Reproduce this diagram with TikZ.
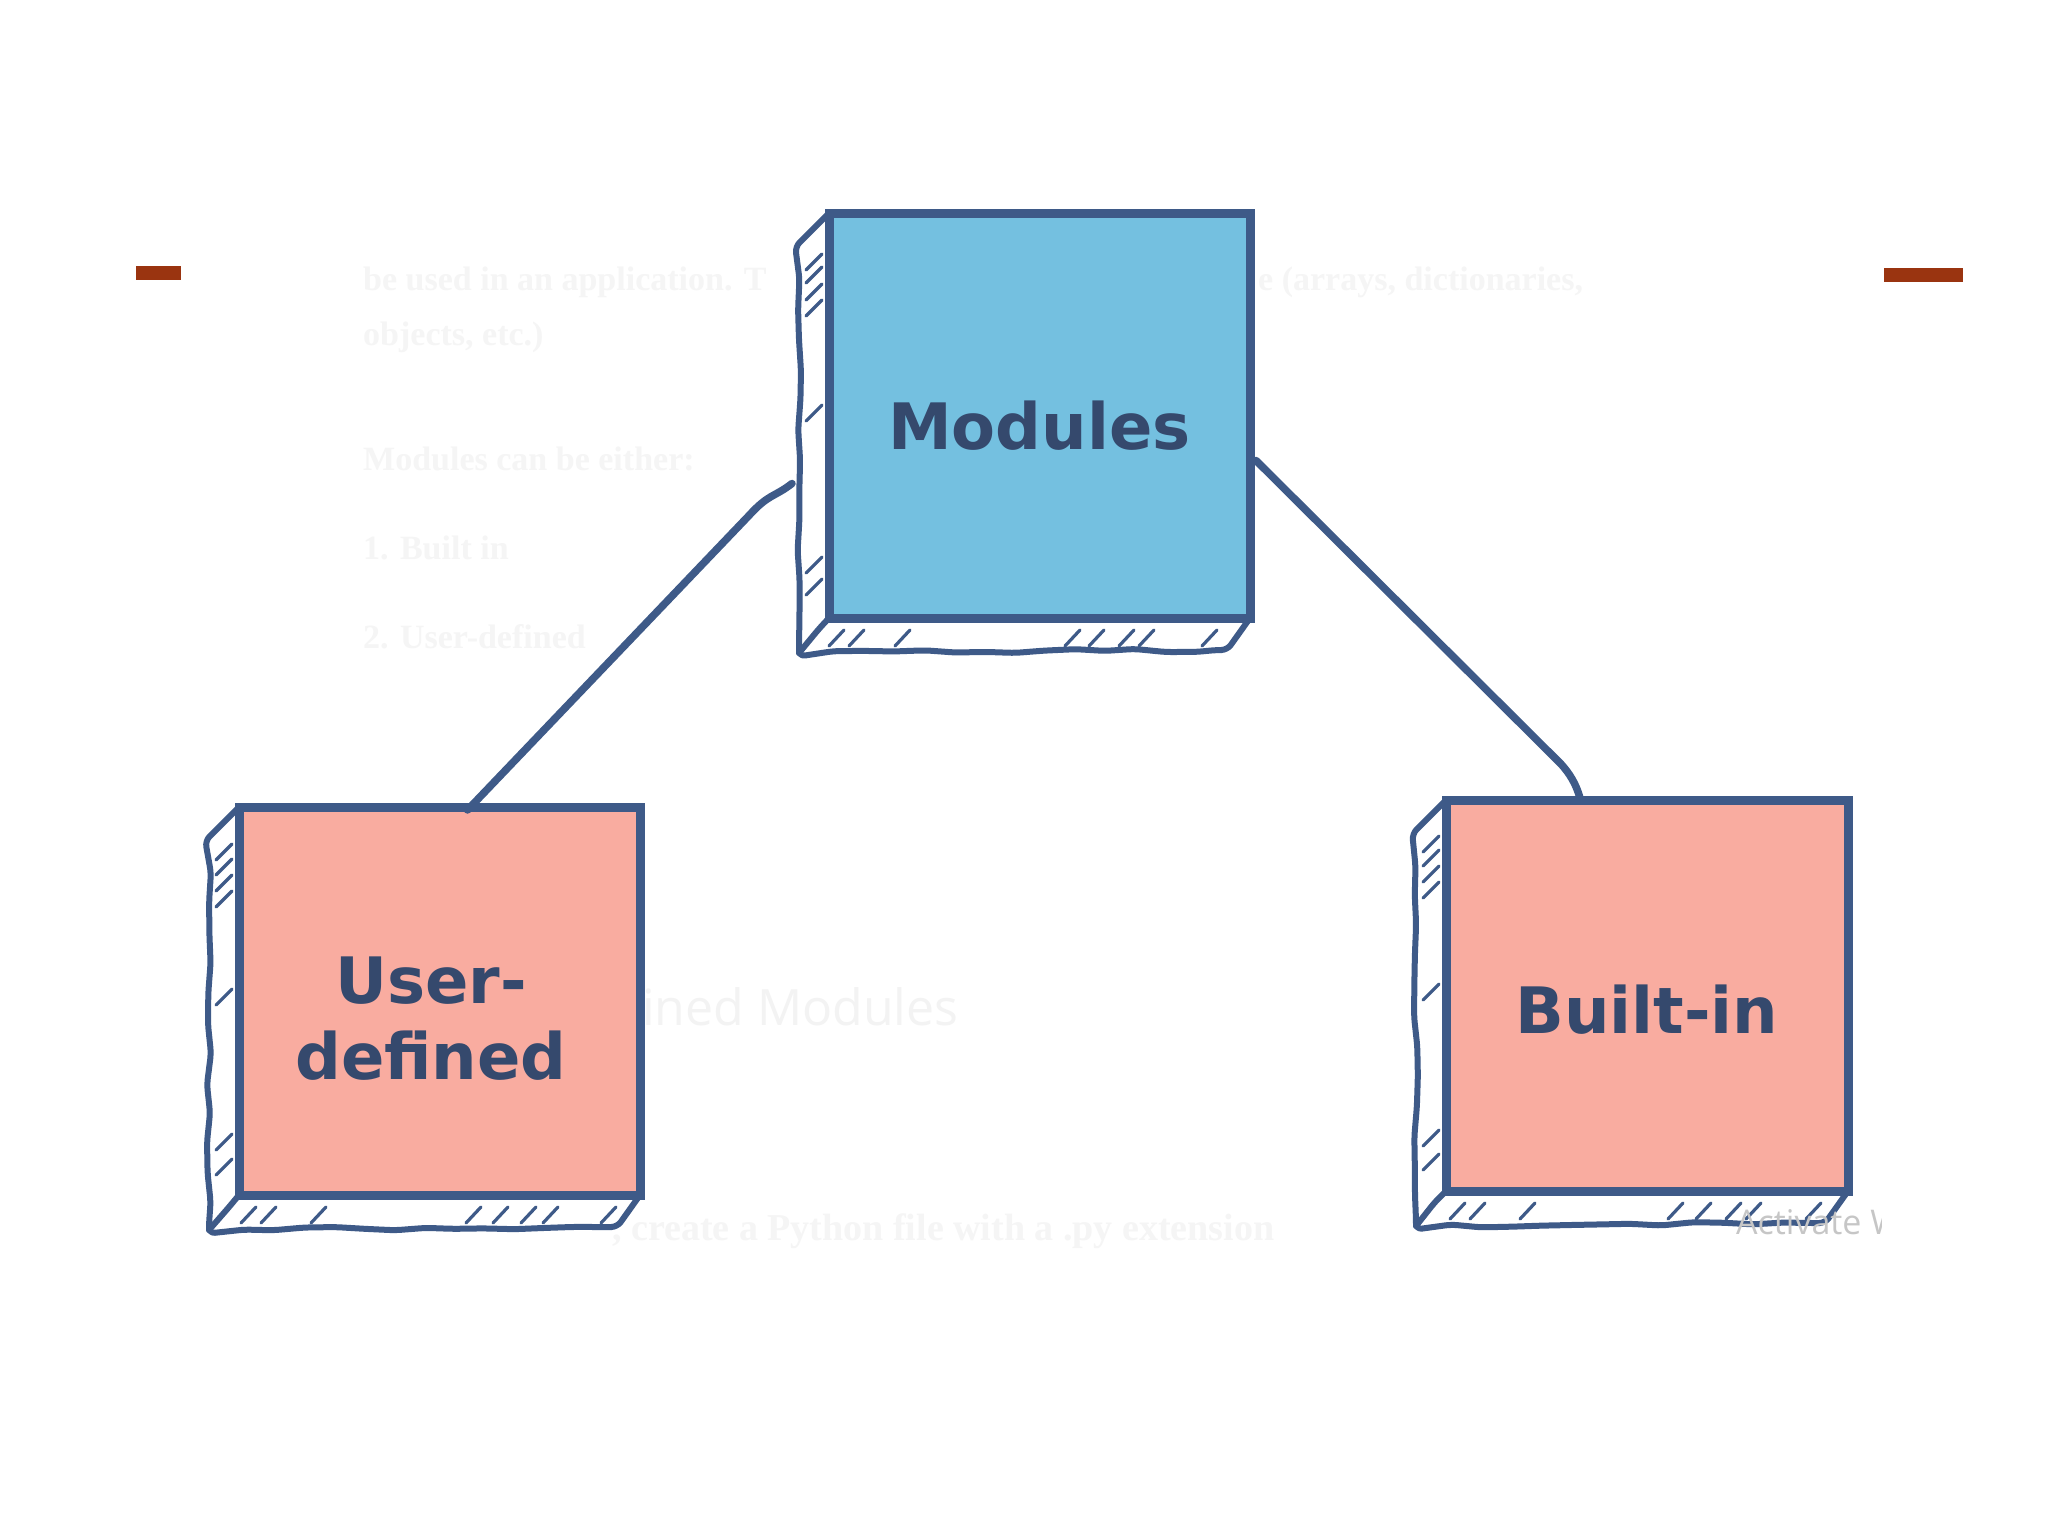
\documentclass[tikz,border=0pt]{standalone}
\usepackage{fontspec}
\setmainfont{DejaVu Sans}
\newfontfamily\ghostserif{Liberation Serif}
\newfontfamily\ghostsans{Open Sans}
\usetikzlibrary{calc,decorations.pathmorphing}
\pgfdeclarelayer{ghost}
\pgfdeclarelayer{bg}
\pgfsetlayers{ghost,bg,main}
\definecolor{ink}{HTML}{3E5A88}
\definecolor{txt}{HTML}{35496D}
\definecolor{blueF}{HTML}{74C0E0}
\definecolor{pinkF}{HTML}{F9ACA0}
\definecolor{rust}{HTML}{9A3410}
\definecolor{ghost}{HTML}{F5F5F5}
\definecolor{ghostB}{HTML}{F3F3F3}
\definecolor{wm}{HTML}{C6C6C6}
\tikzset{
  frontbox/.style={draw=ink, line width=9pt, inner sep=0pt, outer sep=0pt,
    text=txt, font=\fontsize{64}{76}\selectfont\bfseries},
  sidestroke/.style={draw=ink, line width=6pt, line cap=round, line join=round,
    decorate, decoration={random steps, segment length=30pt, amplitude=2pt}, rounded corners=6pt},
  hatchstroke/.style={draw=ink, line width=3.2pt, line cap=round},
  conn/.style={draw=ink, line width=7.5pt, line cap=round, line join=round},
  ghosttext/.style={text=ghost, font=\ghostserif\bfseries\fontsize{34}{40}\selectfont, inner sep=0pt},
  ghostsanstext/.style={text=ghostB, font=\ghostsans\fontsize{50}{60}\selectfont, inner sep=0pt},
  wmtext/.style={text=wm, font=\ghostsans\fontsize{34}{40}\selectfont, inner sep=0pt}
}
\newcommand\boxsides[3]{%
  \begin{pgfonlayer}{bg}
  \fill[white] (#1.north west) -- ++(-30,30) -- ($(#1.south west)+(-30,35)$) -- ($(#1.south east)+(-28,32)$) -- (#1.south east) -- cycle;
  \draw[sidestroke] (#1.north west) -- ++(-30,30) -- ($(#1.south west)+(-30,35)$) -- ($(#1.south east)+(-28,32)$) -- (#1.south east);
  \draw[sidestroke] ($(#1.south west)+(-30,35)$) -- (#1.south west);
  \foreach \t in {#2} \draw[hatchstroke] ($(#1.north west)+(-23,\t+8)$) -- ++(16,-16);
  \foreach \s in {#3} \draw[hatchstroke] ($(#1.south west)+(\s-8,28)$) -- ++(15,-16);
  \end{pgfonlayer}}
\begin{document}
\begin{tikzpicture}[x=1pt,y=-1pt]
\pgfmathsetseed{7}
\useasboundingbox (0,0) rectangle (2048,1536);

% faint background text
\begin{pgfonlayer}{ghost}
\fill[white] (0,0) rectangle (2048,1536);
\node[ghosttext, anchor=base west] (g1) at (363,290) {be used in an application. T};
\node[ghosttext, anchor=base west] (g2) at (1258,290) {e (arrays, dictionaries,};
\node[ghosttext, anchor=base west] (g3) at (363,345) {objects, etc.)};
\node[ghosttext, anchor=base west] (g4) at (363,470) {Modules can be either:};
\node[ghosttext, anchor=base west] (g5) at (363,559) {1. Built in};
\node[ghosttext, anchor=base west] (g6) at (363,648) {2. User-defined};
\node[ghostsanstext, anchor=base west] (g7) at (642,1025) {ined Modules};
\node[ghosttext, anchor=base west, font=\ghostserif\bfseries\fontsize{38}{44}\selectfont] (g8) at (612,1240) {, create a Python file with a .py extension};
\end{pgfonlayer}

% rust dashes
\fill[rust] (136,266) rectangle (181,280);
\fill[rust] (1884,268) rectangle (1963,282);

% front faces
\node[frontbox, fill=blueF, minimum width=421pt, minimum height=405pt] (mod) at (1039.5,415.5)
  {\raisebox{-34pt}[0pt][0pt]{Modules}};
\node[frontbox, fill=pinkF, minimum width=401pt, minimum height=388pt] (ud) at (439.5,1001)
  {\hspace*{-17pt}\raisebox{-2pt}[0pt][0pt]{\begin{tabular}[t]{@{}c@{}}User-\\defined\end{tabular}}};
\node[frontbox, fill=pinkF, minimum width=402pt, minimum height=391pt] (bi) at (1647,995.5)
  {\raisebox{-38pt}[0pt][0pt]{Built-in}};

% extruded sides with hatching
\boxsides{mod}{49,62,79,95,200,352,374}{8,28,74,244,268,298,318,381}
\boxsides{ud}{45,60,76,92,190,335,360}{10,30,80,235,262,290,312,370}
\boxsides{bi}{44,58,74,90,192,338,362}{12,32,82,230,258,288,308,368}

% connectors
\coordinate (ml) at ($(mod.west)+(-37,68)$);
\coordinate (mlb) at ($(mod.west)+(-80,100)$);
\coordinate (udt) at ($(ud.north)+(28,3)$);
\draw[conn] (ml) .. controls +(-18,14) and +(20,-22) .. (mlb) -- (udt);
\coordinate (mr) at ($(mod.east)+(6,45)$);
\coordinate (mrb) at ($(bi.north)+(-86,-36)$);
\coordinate (bit) at ($(bi.north)+(-67,-2)$);
\draw[conn] (mr) -- (mrb) .. controls +(9,10) and +(-4,-14) .. (bit);

% watermark
\begin{scope}
\clip (1700,1180) rectangle (1881,1260);
\node[wmtext, anchor=base west] (wm) at (1736,1234) {Activate Windows};
\end{scope}
\end{tikzpicture}
\end{document}
